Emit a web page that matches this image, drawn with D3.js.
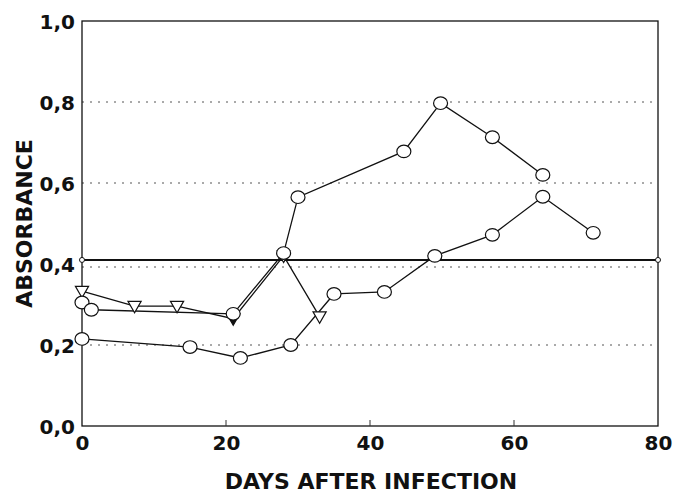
<!DOCTYPE html>
<html>
<head>
<meta charset="utf-8">
<script src="https://cdn.jsdelivr.net/npm/d3@7"></script>
<style>
  body { margin: 0; background: #fff; }
  svg text { font-family: "DejaVu Sans", sans-serif; font-weight: bold; fill: #111; }
</style>
</head>
<body>
<div id="chart"></div>
<script>
// values
const yTicks = [0, 0.2, 0.4, 0.6, 0.8, 1.0];
const xTicks = [0, 20, 40, 60, 80];
const threshold = 0.41;

const daysA = [0, 1.3, 21, 28, 30, 44.7, 49.8, 57, 64];
const valsA = [0.305, 0.287, 0.277, 0.427, 0.565, 0.678, 0.797, 0.713, 0.62];

const daysB = [0, 7.3, 13.2, 21, 28, 33];
const valsB = [0.333, 0.296, 0.296, 0.265, 0.42, 0.27];

const daysC = [0, 15, 22, 29, 35, 42, 49, 57, 64, 71];
const valsC = [0.215, 0.195, 0.168, 0.2, 0.326, 0.331, 0.42, 0.472, 0.566, 0.477];

const margin = {top: 21, right: 15, bottom: 70, left: 82},
    width = 673 - margin.left - margin.right,
    height = 496 - margin.top - margin.bottom;

const svg = d3.select("#chart")
    .append("svg")
    .attr("width", 673)
    .attr("height", 496)
    .append("g")
    .attr("transform", `translate(${margin.left},${margin.top})`);

const x = d3.scaleLinear().domain([0, 80]).range([0, width]);
const y = d3.scaleLinear().domain([0, 1]).range([height, 0]);

const fmt = d => d3.format(".1f")(d).replace(".", ",");

// dotted horizontal grid
svg.append("g")
    .selectAll("line")
    .data(yTicks.filter(d => d > 0 && d < 1))
    .join("line")
    .attr("x1", 0).attr("x2", width)
    .attr("y1", d => y(d) + (d === 0.4 ? 3 : 0)).attr("y2", d => y(d) + (d === 0.4 ? 3 : 0))
    .attr("stroke", "#555")
    .attr("stroke-width", 1)
    .attr("stroke-dasharray", "2,6");

// frame
svg.append("rect")
    .attr("width", width).attr("height", height)
    .attr("fill", "none").attr("stroke", "#111").attr("stroke-width", 1.3);

// axes
const yAxis = svg.append("g")
    .call(d3.axisLeft(y).tickValues(yTicks).tickFormat(fmt).tickSize(0).tickPadding(7));
yAxis.select(".domain").remove();
yAxis.selectAll("text").style("font-size", "20px").attr("dy", "0.35em");

const xAxis = svg.append("g")
    .attr("transform", `translate(0,${height})`)
    .call(d3.axisBottom(x).tickValues(xTicks).tickSize(0).tickPadding(10));
xAxis.select(".domain").remove();
xAxis.selectAll("text").style("font-size", "20px");

// small inner ticks on bottom
svg.append("g")
    .selectAll("line")
    .data(xTicks.filter(d => d > 0 && d < 80))
    .join("line")
    .attr("x1", d => x(d)).attr("x2", d => x(d))
    .attr("y1", height).attr("y2", height - 6)
    .attr("stroke", "#333");

// axis titles
svg.append("text")
    .attr("x", width / 2 + 1).attr("y", height + 63)
    .attr("text-anchor", "middle")
    .style("font-size", "22px")
    .text("DAYS AFTER INFECTION");

svg.append("text")
    .attr("transform", `translate(${-50},${y(0.5)}) rotate(-90)`)
    .attr("text-anchor", "middle")
    .style("font-size", "22px")
    .text("ABSORBANCE");

// threshold line
svg.append("line")
    .attr("x1", x(0)).attr("x2", x(80))
    .attr("y1", y(threshold)).attr("y2", y(threshold))
    .attr("stroke", "#111").attr("stroke-width", 2);
svg.selectAll(".thr")
    .data([0, 80])
    .join("circle")
    .attr("cx", d => x(d)).attr("cy", y(threshold)).attr("r", 2.5)
    .attr("fill", "#fff").attr("stroke", "#111");

const line = d3.line().x(d => x(d.day)).y(d => y(d.val));
const zip = (ds, vs) => ds.map((d, i) => ({day: d, val: vs[i]}));

const seriesA = zip(daysA, valsA), seriesB = zip(daysB, valsB), seriesC = zip(daysC, valsC);

[seriesB, seriesA, seriesC].forEach(s => {
    svg.append("path")
        .datum(s)
        .attr("d", line)
        .attr("fill", "none")
        .attr("stroke", "#111")
        .attr("stroke-width", 1.3);
});

// triangle markers (pointing down)
const tri = d3.symbol().type(d3.symbolTriangle).size(75);
svg.append("g")
    .selectAll("path")
    .data(seriesB)
    .join("path")
    .attr("d", tri)
    .attr("transform", d => `translate(${x(d.day)},${y(d.val) - 1}) rotate(180)`)
    .attr("fill", d => d.day === 21 ? "#111" : "#fff")
    .attr("stroke", "#111").attr("stroke-width", 1.2);

// circle markers
svg.append("g")
    .selectAll("ellipse")
    .data(seriesA.concat(seriesC))
    .join("ellipse")
    .attr("cx", d => x(d.day)).attr("cy", d => y(d.val))
    .attr("rx", 7).attr("ry", 6.3)
    .attr("fill", "#fff").attr("stroke", "#111").attr("stroke-width", 1.2);
</script>
</body>
</html>
